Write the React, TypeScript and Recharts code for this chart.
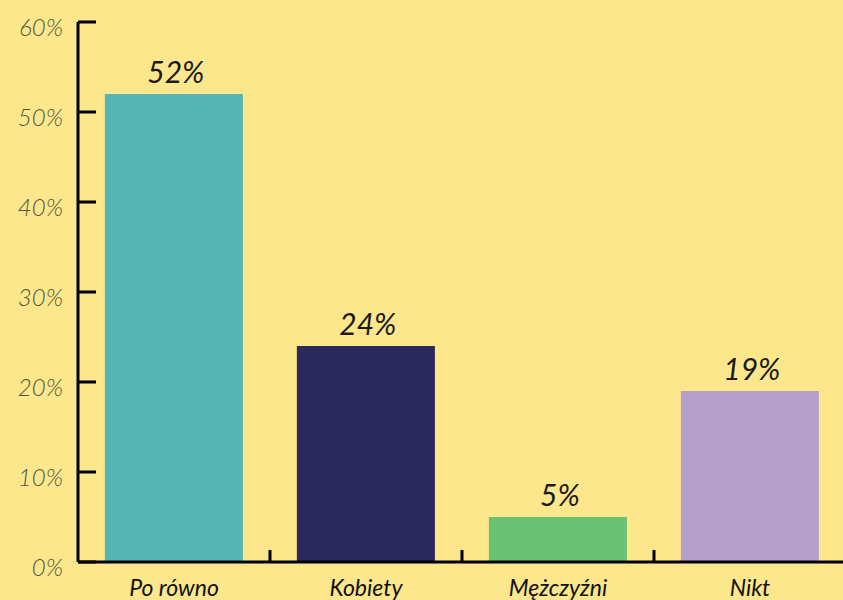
import { BarChart, Bar, XAxis, YAxis, Cell, LabelList } from "recharts";

const categories = ["Po równo", "Kobiety", "Mężczyźni", "Nikt"];
const shares = [52, 24, 5, 19];
const barColors = ["#56B4B4", "#2B285C", "#69C173", "#B59FCB"];
const yTicks = [0, 10, 20, 30, 40, 50, 60];

const data = categories.map((name, i) => ({ name, value: shares[i] }));

const BG = "#FCE78C";
const FONT = "Lato, 'Open Sans', sans-serif";
const AXIS_X = 78;
const CHART_W = 846;
const BAND = (CHART_W - AXIS_X) / categories.length;

function YTick(props: any) {
  const { x, y, payload } = props;
  return (
    <g>
      <line x1={AXIS_X} x2={AXIS_X + 18} y1={y} y2={y} stroke="#000" strokeWidth={3} />
      <text x={x} y={y + 5} dy="0.355em" textAnchor="end" fill="#57533b" fontFamily={FONT} fontStyle="italic" fontWeight={300} fontSize={24}>
        {payload.value}%
      </text>
    </g>
  );
}

function XTick(props: any) {
  const { x, y, payload } = props;
  const axisY = y - 18;
  return (
    <g>
      <line x1={x + BAND / 2} x2={x + BAND / 2} y1={axisY} y2={axisY - 12} stroke="#000" strokeWidth={3} />
      <text x={x} y={y} dy="0.71em" textAnchor="middle" fill="#111" fontFamily={FONT} fontStyle="italic" fontSize={23}>
        {payload.value}
      </text>
    </g>
  );
}

function BarLabel(props: any) {
  const { x, y, width, value } = props;
  return (
    <text x={x + width / 2 + 2} y={y - 11} textAnchor="middle" fill="#1a1a1a" fontFamily={FONT} fontStyle="italic" fontSize={30}>
      {value}%
    </text>
  );
}

export default function App() {
  return (
    <div style={{ position: "absolute", left: 0, top: 0, width: 843, height: 600, overflow: "hidden", background: BG }}>
      <BarChart width={CHART_W} height={600} data={data} margin={{ top: 22, right: 0, bottom: 0, left: 0 }} barCategoryGap="14%">
        <XAxis
          dataKey="name"
          height={38}
          axisLine={{ stroke: "#000", strokeWidth: 3 }}
          tickLine={false}
          tickSize={0}
          tickMargin={18}
          tick={<XTick />}
          interval={0}
        />
        <YAxis
          width={AXIS_X}
          domain={[0, 60]}
          ticks={yTicks}
          axisLine={{ stroke: "#000", strokeWidth: 3 }}
          tickLine={false}
          tickSize={0}
          tickMargin={15}
          tick={<YTick />}
          interval={0}
        />
        <Bar dataKey="value" isAnimationActive={false}>
          {data.map((d, i) => (
            <Cell key={d.name} fill={barColors[i]} />
          ))}
          <LabelList dataKey="value" content={<BarLabel />} />
        </Bar>
      </BarChart>
    </div>
  );
}
